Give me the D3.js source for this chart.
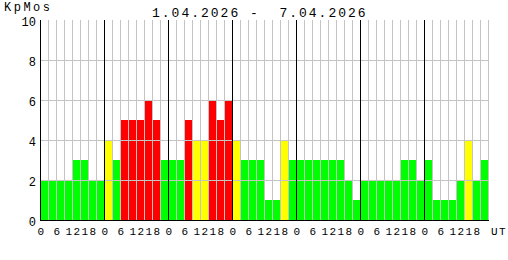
<!DOCTYPE html>
<html>
<head>
<meta charset="utf-8">
<script src="https://cdn.jsdelivr.net/npm/d3@7"></script>
<style>
  body { margin: 0; background: #fff; }
  text { font-family: "Liberation Mono", "DejaVu Sans Mono", monospace; fill: #000; white-space: pre; }
</style>
</head>
<body>
<div id="chart"></div>
<script>
// Kp index, 3-hour intervals, 1.04 - 7.04
const kpValues = [
  2, 2, 2, 2, 3, 3, 2, 2,
  4, 3, 5, 5, 5, 6, 5, 3,
  3, 3, 5, 4, 4, 6, 5, 6,
  4, 3, 3, 3, 1, 1, 4, 3,
  3, 3, 3, 3, 3, 3, 2, 1,
  2, 2, 2, 2, 2, 3, 3, 2,
  3, 1, 1, 1, 2, 4, 2, 3
];
const hourLabels = ['0', '6', '12', '18'];
const yTicks = [0, 2, 4, 6, 8, 10];
const titleText = '1.04.2026 -  7.04.2026';
const yTitle = 'KpMos';
const nDays = 7;

const width = 508, height = 260;
const mLeft = 40, mRight = 488, mTop = 20, mBottom = 220;

const svg = d3.select('#chart').append('svg')
  .attr('width', width)
  .attr('height', height);

const x = d3.scaleLinear().domain([0, kpValues.length]).range([mLeft, mRight]);
const y = d3.scaleLinear().domain([0, 10]).range([mBottom, mTop]);

const color = v => v >= 5 ? '#ff0000' : (v === 4 ? '#ffff00' : '#00ff00');

// bars
svg.append('g')
  .selectAll('rect')
  .data(kpValues)
  .enter()
  .append('rect')
  .attr('x', (d, i) => x(i))
  .attr('y', d => y(d))
  .attr('width', x(1) - x(0))
  .attr('height', d => mBottom - y(d))
  .attr('fill', d => color(d));

// grid (drawn over bars)
svg.append('g')
  .selectAll('line')
  .data(d3.range(1, kpValues.length + 1))
  .enter()
  .append('line')
  .attr('x1', d => x(d) + 0.5)
  .attr('x2', d => x(d) + 0.5)
  .attr('y1', mTop)
  .attr('y2', mBottom)
  .attr('stroke', '#c4c4c4');

svg.append('g')
  .selectAll('line')
  .data(yTicks.filter(t => t > 0 && t < 10))
  .enter()
  .append('line')
  .attr('x1', mLeft)
  .attr('x2', mRight + 1)
  .attr('y1', d => y(d) + 0.5)
  .attr('y2', d => y(d) + 0.5)
  .attr('stroke', '#c4c4c4');

// day separators
svg.append('g')
  .selectAll('line')
  .data(d3.range(1, nDays))
  .enter()
  .append('line')
  .attr('x1', d => x(d * 8) + 0.5)
  .attr('x2', d => x(d * 8) + 0.5)
  .attr('y1', mTop)
  .attr('y2', mBottom)
  .attr('stroke', '#000');

// axes
svg.append('line')
  .attr('x1', mLeft + 0.5).attr('x2', mLeft + 0.5)
  .attr('y1', mTop).attr('y2', mBottom + 1)
  .attr('stroke', '#000');
svg.append('line')
  .attr('x1', mLeft).attr('x2', mRight + 1)
  .attr('y1', mBottom + 0.5).attr('y2', mBottom + 0.5)
  .attr('stroke', '#000');

// y labels
svg.append('g')
  .selectAll('text')
  .data(yTicks)
  .enter()
  .append('text')
  .attr('x', 36)
  .attr('y', d => y(d) + 6)
  .attr('text-anchor', 'end')
  .style('font-size', '12px')
  .text(d => d);

// x labels, centred on the 6-hour ticks
const xLabels = [];
for (let d = 0; d < nDays; d++) {
  hourLabels.forEach((h, k) => xLabels.push({ pos: d * 8 + k * 2, text: h }));
}
svg.append('g')
  .selectAll('text')
  .data(xLabels)
  .enter()
  .append('text')
  .attr('x', d => x(d.pos) + 1.5)
  .attr('y', 235)
  .attr('text-anchor', 'middle')
  .style('font-size', '11px')
  .style('letter-spacing', '1.4px')
  .text(d => d.text);

svg.append('text')
  .attr('x', 491)
  .attr('y', 235)
  .style('font-size', '11px')
  .style('letter-spacing', '1.4px')
  .text('UT');

svg.append('text')
  .attr('x', 4)
  .attr('y', 11)
  .style('font-size', '12px')
  .style('letter-spacing', '2.5px')
  .text(yTitle);

svg.append('text')
  .attr('x', 152)
  .attr('y', 17)
  .style('font-size', '13px')
  .style('letter-spacing', '2px')
  .text(titleText);
</script>
</body>
</html>
